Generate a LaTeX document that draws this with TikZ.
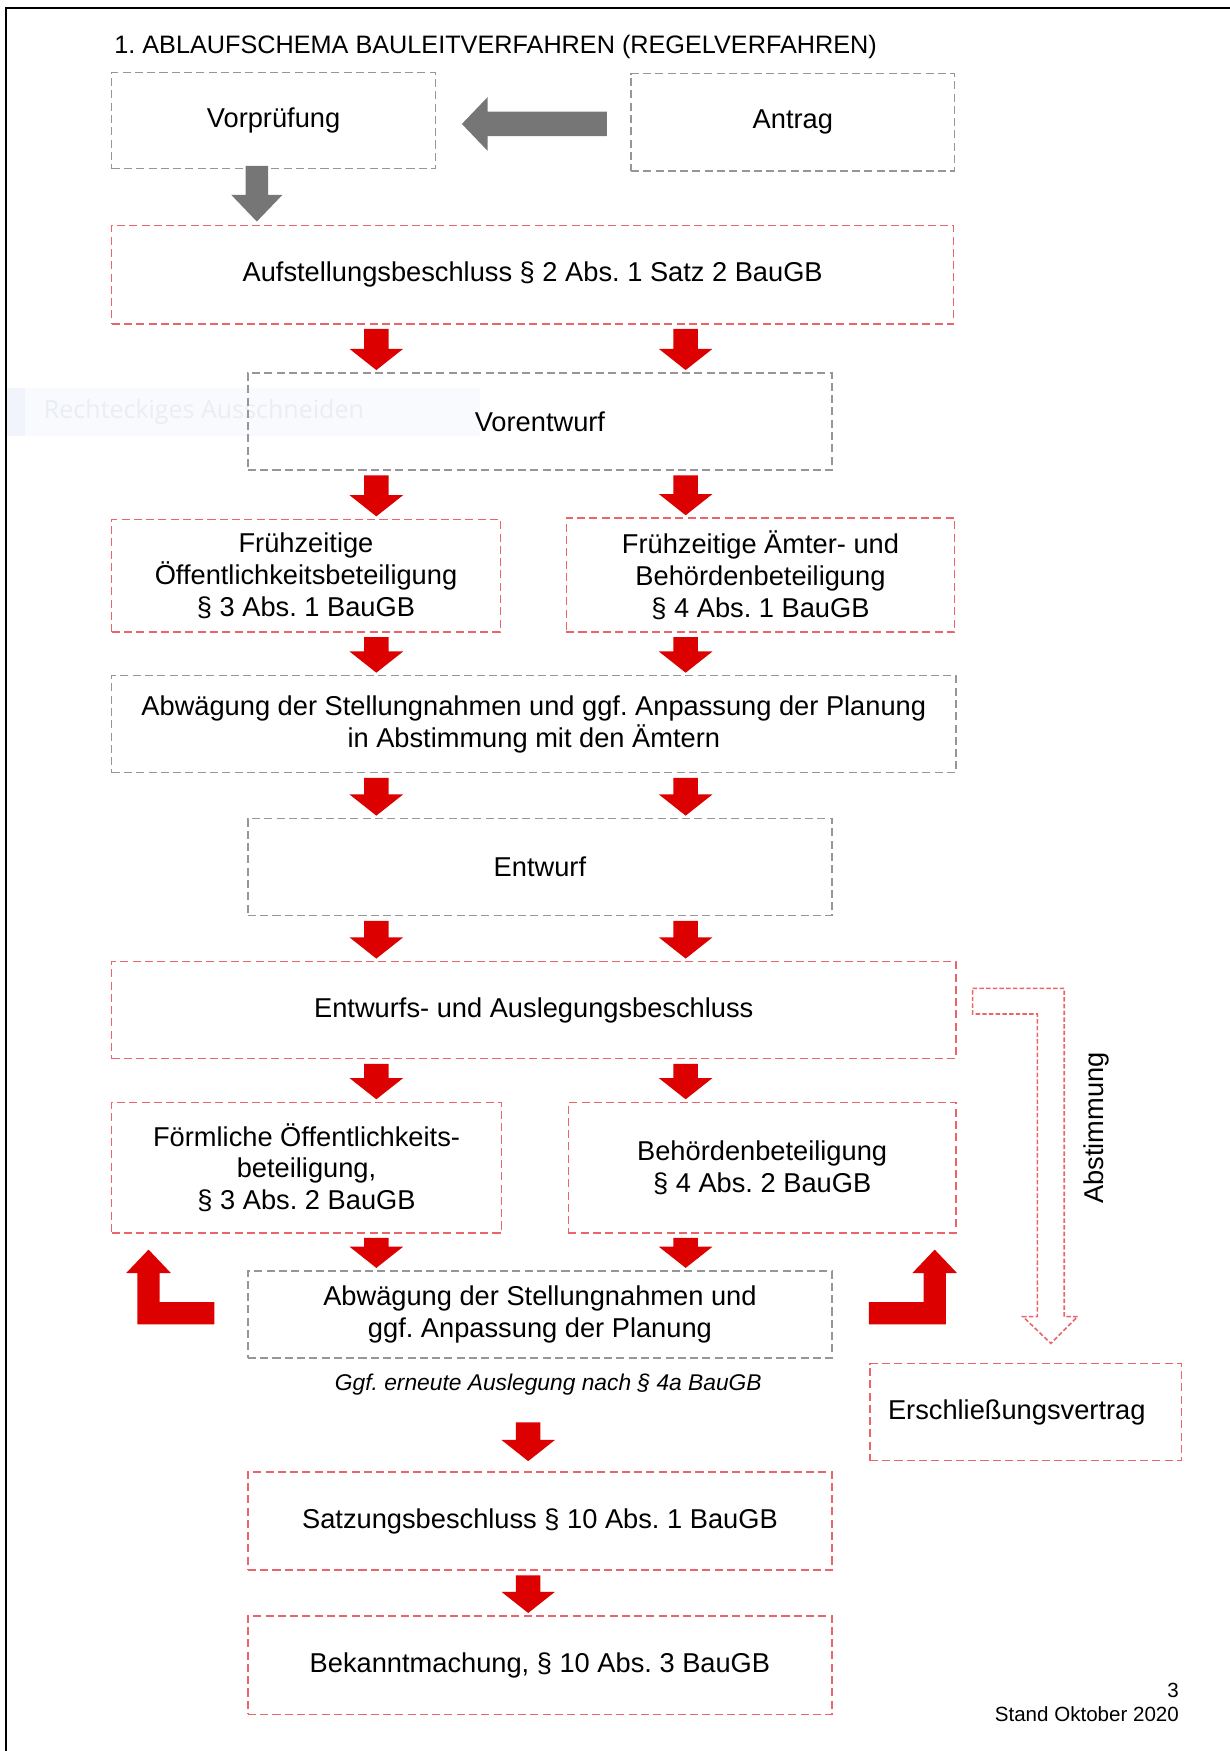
\documentclass[tikz,border=0pt]{standalone}
\usepackage{fontspec}
\setmainfont{Liberation Sans}
\newfontfamily\snipfont{Open Sans}
\usetikzlibrary{calc}
\definecolor{boxred}{RGB}{234,100,106}
\definecolor{boxgray}{RGB}{150,150,150}
\definecolor{arrred}{RGB}{221,0,0}
\definecolor{arrgray}{RGB}{118,118,118}
\definecolor{snipbg}{RGB}{248,250,253}
\definecolor{snipicon}{RGB}{241,245,251}
\definecolor{sniptext}{RGB}{234,237,242}
\frenchspacing
\begin{document}
\begin{tikzpicture}[x=0.5pt,y=-0.5pt,
  font=\fontsize{12.2}{14.2}\selectfont,
  box/.style={draw, dash pattern=on 3.6pt off 1.9pt, line width=0.6pt, inner sep=0pt, align=center, text=black},
  graybox/.style={box, draw=boxgray},
  redbox/.style={box, draw=boxred},
  redv/.style={to path={let \p1=(\tikztostart), \p2=(\tikztotarget) in
    (\x1-5.5pt,\y1) -- (\x1+5.5pt,\y1) -- (\x1+5.5pt,\y2+9.5pt) -- (\x1+12pt,\y2+9.5pt)
    -- (\x1,\y2) -- (\x1-12pt,\y2+9.5pt) -- (\x1-5.5pt,\y2+9.5pt) -- cycle}},
  grayv/.style={to path={let \p1=(\tikztostart), \p2=(\tikztotarget) in
    (\x1-5pt,\y1) -- (\x1+5pt,\y1) -- (\x1+5pt,\y2+12pt) -- (\x1+11.5pt,\y2+12pt)
    -- (\x1,\y2) -- (\x1-11.5pt,\y2+12pt) -- (\x1-5pt,\y2+12pt) -- cycle}},
  grayh/.style={to path={let \p1=(\tikztostart), \p2=(\tikztotarget) in
    (\x1,\y1-5.5pt) -- (\x1,\y1+5.5pt) -- (\x2+11.5pt,\y1+5.5pt) -- (\x2+11.5pt,\y1+12pt)
    -- (\x2,\y1) -- (\x2+11.5pt,\y1-12pt) -- (\x2+11.5pt,\y1-5.5pt) -- cycle}}
]
\useasboundingbox (0,0) rectangle (1101,1568);

% page frame
\draw[line width=1pt] (5.4,1568) -- (5.4,7) -- (1101,7);

% faint snipping-tool overlay
\fill[snipbg] (6.5,347) rectangle (430,390);
\fill[snipicon] (6.5,347) rectangle (22,390);
\node[anchor=west, text=sniptext, font=\snipfont\fontsize{11.2}{13}\selectfont, inner sep=0pt] (snip) at (39,369) {Rechteckiges Ausschneiden};

% title
\node[anchor=west, inner sep=0pt, font=\fontsize{11.3}{13}\selectfont] (title) at (102,42) {1. ABLAUFSCHEMA BAULEITVERFAHREN (REGELVERFAHREN)};

% boxes
\node[graybox, minimum width=145pt, minimum height=43pt] (vp) at (245,108) {Vorprüfung};
\node[graybox, minimum width=145pt, minimum height=43.5pt] (antrag) at (710,109.5) {Antrag};
\node[redbox, minimum width=377pt, minimum height=44pt] (aufst) at (477,246) {Aufstellungsbeschluss § 2 Abs. 1 Satz 2 BauGB};
\node[graybox, minimum width=261.5pt, minimum height=43.5pt] (vorent) at (483.5,377.5) {Vorentwurf};
\node[redbox, minimum width=174pt, minimum height=50.5pt] (fruehoe) at (274,515.5) {Frühzeitige\\Öffentlichkeitsbeteiligung\\§ 3 Abs. 1 BauGB};
\node[redbox, minimum width=174pt, minimum height=51pt] (fruehbe) at (681,515) {Frühzeitige Ämter- und\\Behördenbeteiligung\\§ 4 Abs. 1 BauGB};
\node[graybox, minimum width=378pt, minimum height=43.5pt] (abw1) at (478,648.5) {Abwägung der Stellungnahmen und ggf. Anpassung der Planung\\in Abstimmung mit den Ämtern};
\node[graybox, minimum width=261.5pt, minimum height=43.5pt] (entwurf) at (483.5,776.5) {Entwurf};
\node[redbox, minimum width=378pt, minimum height=43.5pt] (ausl) at (478,904.5) {Entwurfs- und Auslegungsbeschluss};
\node[redbox, minimum width=174.5pt, minimum height=58.5pt] (foerm) at (274.5,1045.5) {Förmliche Öffentlichkeits-\\beteiligung,\\§ 3 Abs. 2 BauGB};
\node[redbox, minimum width=173.5pt, minimum height=58.5pt] (behoe) at (682.5,1045.5) {Behördenbeteiligung\\§ 4 Abs. 2 BauGB};
\node[graybox, minimum width=261.5pt, minimum height=39pt] (abw2) at (483.5,1177) {Abwägung der Stellungnahmen und\\ggf. Anpassung der Planung};
\node[font=\fontsize{10.2}{12}\selectfont\itshape, inner sep=0pt] (erneut) at (491,1240) {Ggf. erneute Auslegung nach § 4a BauGB};
\node[redbox, minimum width=261.5pt, minimum height=44pt] (satzung) at (483.5,1362) {Satzungsbeschluss § 10 Abs. 1 BauGB};
\node[redbox, minimum width=261.5pt, minimum height=44pt] (bekannt) at (483.5,1491) {Bekanntmachung, § 10 Abs. 3 BauGB};
\node[redbox, minimum width=139.5pt, minimum height=43.5pt] (erschl) at (918.5,1264.5) {Erschließungsvertrag\hspace*{8pt}};

% footer
\node[anchor=east, inner sep=0pt, font=\fontsize{9.2}{11}\selectfont] (pg) at (1056,1514) {3};
\node[anchor=east, inner sep=0pt, font=\fontsize{9.2}{11}\selectfont] (stand) at (1056,1535) {Stand Oktober 2020};

% column coordinates
\coordinate (cg) at (230,0);
\coordinate (cl) at (337,0);
\coordinate (cr) at (614,0);
\coordinate (cm) at (473,0);

% gray arrows
\fill[arrgray] ($(antrag.west)+(-10.5pt,-0.75pt)$) to[grayh] ($(vp.east)+(11.5pt,0pt)$);
\fill[arrgray] ($(vp.south -| cg)+(0pt,1.5pt)$) to[grayv] ($(aufst.north -| cg)+(0pt,1.5pt)$);

% red arrows
\foreach \a/\b/\c in {aufst/vorent/cl, aufst/vorent/cr,
                      vorent/fruehoe/cl, vorent/fruehbe/cr,
                      fruehoe/abw1/cl, fruehbe/abw1/cr,
                      abw1/entwurf/cl, abw1/entwurf/cr,
                      entwurf/ausl/cl, entwurf/ausl/cr,
                      ausl/foerm/cl, ausl/behoe/cr,
                      foerm/abw2/cl, behoe/abw2/cr,
                      satzung/bekannt/cm}
  \fill[arrred] ($(\a.south -| \c)+(0pt,-2pt)$) to[redv] ($(\b.north -| \c)+(0pt,1pt)$);
\fill[arrred] ($(abw2.south -| cm)+(0pt,-28.5pt)$) to[redv] ($(satzung.north -| cm)+(0pt,4.5pt)$);

% L-shaped return arrows
\fill[arrred] (192,1166) -- (143,1166) -- (143,1140) -- (153,1140) -- (133,1119)
  -- (113,1140) -- (123,1140) -- (123,1186) -- (192,1186) -- cycle;
\fill[arrred] (778,1166) -- (827,1166) -- (827,1140) -- (817,1140) -- (837,1119)
  -- (857,1140) -- (847,1140) -- (847,1186) -- (778,1186) -- cycle;

% Abstimmung hollow arrow
\draw[draw=boxred, line width=0.7pt, dash pattern=on 2pt off 1pt]
  (871,885) -- (953,885) -- (953,1179) -- (965,1179) -- (941,1203) -- (916,1179)
  -- (929,1179) -- (929,908) -- (871,908) -- cycle;
\node[rotate=90, inner sep=0pt] (abst) at (982,1010) {Abstimmung};
\end{tikzpicture}
\end{document}
